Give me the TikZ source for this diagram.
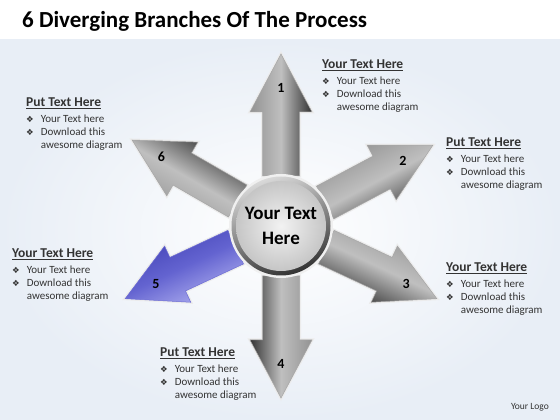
\documentclass[tikz,border=0pt]{standalone}
\usepackage{fontspec}
\setmainfont{Carlito}
\newfontfamily\bulletfont{DejaVu Sans}
\usetikzlibrary{positioning}

\definecolor{bgblue}{RGB}{232,238,246}
\definecolor{bluedark}{RGB}{72,72,200}
\definecolor{bluelight}{RGB}{175,175,240}

\newcommand{\bulletmark}{{\bulletfont\fontsize{8.5}{8.5}\selectfont ❖}}
\newcommand{\branchtext}[1]{%
  \begin{tabular}{@{}l@{\hspace{7pt}}l@{}}
  \multicolumn{2}{@{}l@{}}{\fontsize{13.5}{16}\selectfont\bfseries\underline{#1}}\\[3pt]
  \bulletmark & Your Text here\\
  \bulletmark & Download this\\
              & awesome diagram
  \end{tabular}}

\tikzset{
  greyarrow/.style={preaction={draw=gray!15, line width=3pt},
    draw=gray!70, line width=0.5pt,
    top color=gray!85, bottom color=black!80, middle color=gray!50},
  bluearrow/.style={preaction={draw=gray!15, line width=3pt},
    draw=bluedark!80, line width=0.5pt,
    top color=bluelight, bottom color=bluedark!90!black, middle color=bluedark!85},
  num/.style={font=\fontsize{14}{14}\selectfont\bfseries, inner sep=0pt},
  textblock/.style={anchor=north west, inner sep=0pt,
    font=\fontsize{11}{13}\selectfont, text=black!80},
}

\begin{document}
\begin{tikzpicture}[x=1pt, y=1pt]
\useasboundingbox (0,0) rectangle (560,420);
% background
\fill[white] (0,0) rectangle (560,420);
\shade[inner color=white, outer color=bgblue] (0,0) rectangle (560,380);
\node[anchor=west, inner sep=0pt, font=\fontsize{23}{23}\selectfont\bfseries] (title) at (22,399) {6 Diverging Branches Of The Process};

\coordinate (hub) at (281,194);

% arrows
\foreach \ang/\num/\look in {90/1/greyarrow, 28/2/greyarrow, -25/3/greyarrow,
                            -90/4/greyarrow, 205/5/bluearrow, 150/6/greyarrow}{
  \begin{scope}[shift={(281,194)}, rotate=\ang]
    \draw[\look, shading angle=\ang] (50,-18.5) -- (114,-18.5) -- (114,-31) -- (172,0)
      -- (114,31) -- (114,18.5) -- (50,18.5) -- cycle;
    \node[num] (n\num) at (138,0) {\num};
  \end{scope}
}

% hub
\fill[gray!12] (hub) circle (52);
\shade[top color=gray!30, bottom color=black!80, shading angle=20] (hub) circle (49.5);
\shade[inner color=gray!10, outer color=gray!45] (hub) circle (45);
\node[align=center, font=\fontsize{19}{25}\selectfont\bfseries] (centre) at (hub) {Your Text\\Here};

% texts
\node[textblock] (t1) at (322,361) {\branchtext{Your Text Here}};
\node[textblock] (t2) at (446,283) {\branchtext{Put Text Here}};
\node[textblock] (t3) at (446,158) {\branchtext{Your Text Here}};
\node[textblock] (t4) at (160,73) {\branchtext{Put Text Here}};
\node[textblock] (t5) at (12,172) {\branchtext{Your Text Here}};
\node[textblock] (t6) at (26,323) {\branchtext{Put Text Here}};

\node[anchor=east, inner sep=0pt, font=\fontsize{9.5}{9.5}\selectfont, text=black!80] (logo) at (549,13) {Your Logo};
\end{tikzpicture}
\end{document}
